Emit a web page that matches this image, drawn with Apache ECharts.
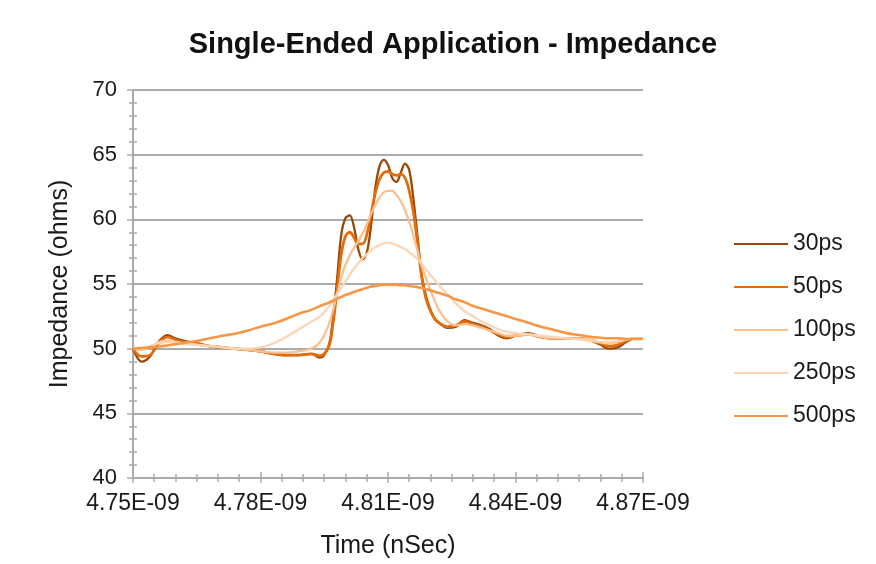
<!DOCTYPE html>
<html>
<head>
<meta charset="utf-8">
<script src="https://cdn.jsdelivr.net/npm/echarts@6/dist/echarts.min.js"></script>
<style>
  html, body { margin: 0; padding: 0; background: #fff; }
  #chart { width: 876px; height: 564px; }
</style>
</head>
<body>
<div id="chart"></div>
<script>
// Time samples in ns (axis labels show them as seconds, e.g. 4.75E-09)
const timeNs = [
  4.750, 4.752, 4.754, 4.756, 4.758, 4.760, 4.762, 4.765, 4.768, 4.771,
  4.774, 4.777, 4.780, 4.783, 4.786, 4.789, 4.792, 4.794, 4.796, 4.797,
  4.798, 4.799, 4.800, 4.801, 4.802, 4.803, 4.804, 4.805, 4.806, 4.807,
  4.808, 4.809, 4.810, 4.811, 4.812, 4.813, 4.814, 4.815, 4.816, 4.817,
  4.818, 4.819, 4.820, 4.821, 4.822, 4.824, 4.826, 4.828, 4.830, 4.832,
  4.834, 4.836, 4.838, 4.840, 4.843, 4.846, 4.849, 4.852, 4.855, 4.858,
  4.860, 4.862, 4.864, 4.866, 4.868, 4.870
];

// Impedance (ohms) for each rise time
const z30ps = [
  50.0, 49.0, 49.4, 50.5, 51.05, 50.8, 50.6, 50.4, 50.2, 50.1,
  50.0, 49.9, 49.8, 49.6, 49.5, 49.5, 49.6, 49.3, 50.2, 52.2,
  55.3, 58.8, 60.1, 60.3, 59.4, 57.7, 56.9, 57.4, 59.5, 62.4,
  64.1, 64.6, 64.2, 63.2, 62.9, 63.6, 64.3, 63.8, 61.5, 58.5,
  55.5, 54.0, 53.0, 52.3, 52.0, 51.6, 51.7, 52.2, 52.0, 51.8,
  51.5, 51.0, 50.8, 51.0, 51.2, 50.9, 50.8, 50.8, 50.8, 50.6,
  50.3, 50.0, 50.1, 50.5, 50.8, 50.8
];
const z50ps = [
  50.0, 49.4, 49.5, 50.4, 50.9, 50.7, 50.5, 50.4, 50.2, 50.1,
  50.0, 49.9, 49.8, 49.6, 49.5, 49.5, 49.6, 49.45, 50.1, 51.8,
  54.5, 57.3, 58.7, 59.0, 58.6, 58.1, 58.1, 58.8, 60.4, 62.0,
  63.1, 63.6, 63.7, 63.5, 63.4, 63.5, 63.2, 62.2, 60.5, 58.0,
  55.4, 53.8, 52.9, 52.3, 52.0, 51.7, 51.8, 52.1, 51.9, 51.7,
  51.4, 51.1, 50.9, 51.0, 51.1, 50.9, 50.8, 50.8, 50.8, 50.6,
  50.4, 50.2, 50.3, 50.6, 50.8, 50.8
];
const z100ps = [
  50.0, 49.9, 50.1, 50.5, 50.6, 50.5, 50.4, 50.3, 50.2, 50.1,
  50.0, 49.9, 49.8, 49.7, 49.7, 49.8, 50.0, 50.5, 51.8, 52.9,
  54.2, 55.5, 56.5, 57.2, 57.8, 58.3, 58.9, 59.6, 60.4, 61.1,
  61.7, 62.1, 62.2, 62.2, 61.9, 61.4, 60.7, 59.8, 58.7, 57.5,
  56.3, 55.4, 54.5, 53.7, 53.0, 52.1, 51.8, 51.9, 51.8, 51.6,
  51.4, 51.2, 51.0, 51.0, 51.1, 50.9, 50.8, 50.8, 50.8, 50.7,
  50.5, 50.4, 50.5, 50.7, 50.8, 50.8
];
const z250ps = [
  50.0, 50.0, 50.2, 50.4, 50.5, 50.5, 50.4, 50.3, 50.2, 50.1,
  50.0, 50.0, 50.1, 50.4, 50.9, 51.5, 52.1, 52.5, 53.2, 53.7,
  54.2, 54.7, 55.2, 55.7, 56.2, 56.6, 57.0, 57.3, 57.6, 57.85,
  58.0, 58.15, 58.2, 58.15, 58.0, 57.85, 57.7, 57.45, 57.2, 56.9,
  56.5, 56.1, 55.7, 55.3, 54.9, 54.2, 53.5, 52.9, 52.5, 52.1,
  51.8, 51.5, 51.3, 51.2, 51.1, 51.0, 50.9, 50.8, 50.7, 50.6,
  50.5, 50.5, 50.6, 50.7, 50.8, 50.8
];
const z500ps = [
  50.0, 50.05, 50.1, 50.15, 50.25, 50.35, 50.45, 50.6, 50.8, 51.0,
  51.15, 51.4, 51.7, 51.95, 52.3, 52.7, 53.0, 53.3, 53.55, 53.7,
  53.85, 54.0, 54.15, 54.25, 54.4, 54.5, 54.6, 54.7, 54.8, 54.85,
  54.9, 54.95, 54.95, 54.95, 54.95, 54.9, 54.9, 54.85, 54.8, 54.75,
  54.7, 54.6, 54.5, 54.4, 54.3, 54.1, 53.8, 53.6, 53.3, 53.1,
  52.9, 52.7, 52.5, 52.3, 52.0, 51.7, 51.45, 51.2, 51.05, 50.9,
  50.85, 50.8, 50.8, 50.75, 50.75, 50.75
];

const seriesNames = ['30ps', '50ps', '100ps', '250ps', '500ps'];
const seriesValues = [z30ps, z50ps, z100ps, z250ps, z500ps];
const seriesColors = ['#984807', '#E46C0A', '#FAC090', '#FCD5B5', '#F79646'];
const seriesWidths = [2.3, 2.8, 2.3, 2.3, 2.6];

// Axis range: time axis runs from T_START, ticks every 0.03 ns
const T_START = 4.75;
const T_END = 4.87;
const T_STEP = 0.03;
const yMin = 40, yMax = 70, yStep = 5;

const FONT = "'Liberation Sans', Arial, sans-serif";
const TEXT = '#1a1a1a';
const GRID_GRAY = '#ABABAB';

const series = seriesNames.map((name, i) => ({
  name: name,
  type: 'line',
  smooth: 0.35,
  symbol: 'none',
  data: timeNs.map((t, k) => [t - T_START, seriesValues[i][k]]),
  lineStyle: { color: seriesColors[i], width: seriesWidths[i] },
  itemStyle: { color: seriesColors[i] },
  z: 2 + i
}));

const xBase = {
  type: 'value',
  min: 0,
  max: T_END - T_START,
  interval: T_STEP
};
const yBase = {
  type: 'value',
  min: yMin,
  max: yMax,
  interval: yStep
};

const chart = echarts.init(document.getElementById('chart'), null, { renderer: 'canvas' });
chart.setOption({
  animation: false,
  backgroundColor: '#ffffff',
  title: {
    text: 'Single-Ended Application - Impedance',
    left: 448,
    textAlign: 'center',
    top: 25,
    textStyle: { fontFamily: FONT, fontSize: 29, fontWeight: 'bold', color: '#111' }
  },
  grid: { left: 133, right: 233, top: 90, bottom: 80 },
  legend: {
    orient: 'vertical',
    left: 728,
    top: 227,
    itemWidth: 54,
    itemHeight: 24,
    itemGap: 19,
    data: seriesNames,
    itemStyle: { opacity: 0 },
    textStyle: { fontFamily: FONT, fontSize: 23, lineHeight: 24, color: TEXT }
  },
  xAxis: [
    Object.assign({}, xBase, {
      name: 'Time (nSec)',
      nameLocation: 'middle',
      nameGap: 56,
      nameTextStyle: { fontFamily: FONT, fontSize: 25, color: TEXT },
      axisLine: { show: true, lineStyle: { color: GRID_GRAY, width: 2 } },
      axisTick: { show: true, inside: false, length: 5, lineStyle: { color: GRID_GRAY, width: 1.5 } },
      minorTick: { show: true, splitNumber: 6, length: 4, lineStyle: { color: GRID_GRAY, width: 1.5 } },
      axisLabel: {
        margin: 14,
        fontFamily: FONT, fontSize: 23, color: TEXT,
        formatter: v => (T_START + v).toFixed(2) + 'E-09'
      },
      splitLine: { show: false }
    }),
    Object.assign({}, xBase, {
      position: 'bottom',
      axisLine: { show: false },
      axisTick: { show: true, inside: true, length: 6, lineStyle: { color: GRID_GRAY, width: 1.5 } },
      minorTick: { show: true, splitNumber: 6, length: 4, lineStyle: { color: GRID_GRAY, width: 1.5 } },
      axisLabel: { show: false },
      splitLine: { show: false }
    })
  ],
  yAxis: [
    Object.assign({}, yBase, {
      name: 'Impedance (ohms)',
      nameLocation: 'middle',
      nameGap: 60,
      nameTextStyle: { fontFamily: FONT, fontSize: 25, color: TEXT },
      axisLine: { show: true, lineStyle: { color: GRID_GRAY, width: 2 } },
      axisTick: { show: true, inside: false, length: 6, lineStyle: { color: GRID_GRAY, width: 1.5 } },
      minorTick: { show: true, splitNumber: 5, length: 4, lineStyle: { color: GRID_GRAY, width: 1.5 } },
      axisLabel: { margin: 16, fontFamily: FONT, fontSize: 22, color: TEXT },
      splitLine: { show: true, lineStyle: { color: GRID_GRAY, width: 2 } }
    }),
    Object.assign({}, yBase, {
      position: 'left',
      axisLine: { show: false },
      axisTick: { show: true, inside: true, length: 4, lineStyle: { color: GRID_GRAY, width: 1.5 } },
      minorTick: { show: true, splitNumber: 5, length: 4, lineStyle: { color: GRID_GRAY, width: 1.5 } },
      axisLabel: { show: false },
      splitLine: { show: false }
    })
  ],
  series: series
});
</script>
</body>
</html>
